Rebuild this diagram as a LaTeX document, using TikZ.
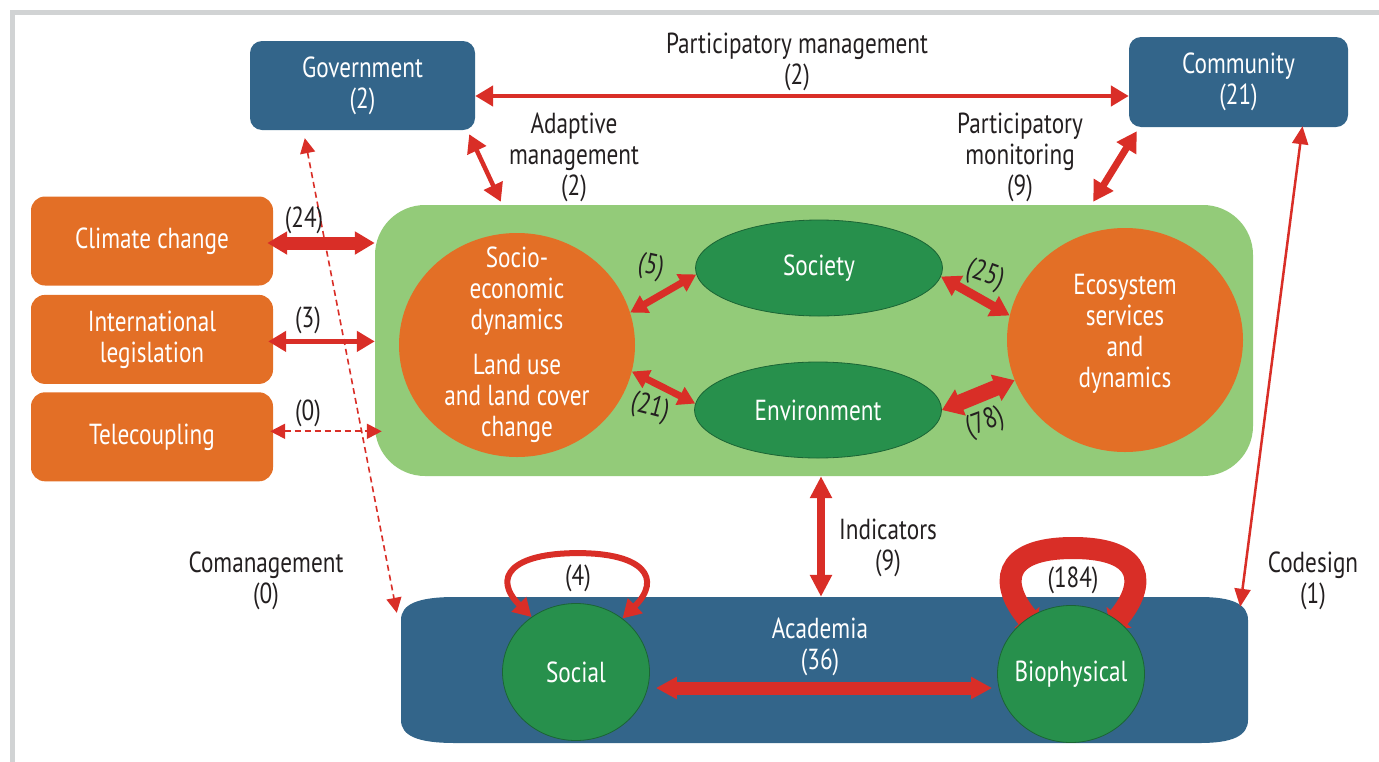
\documentclass[tikz,border=0pt]{standalone}
\usepackage{fontspec}
\setmainfont{PT Sans}[FakeStretch=0.8]
\usepackage{tikz}
\usetikzlibrary{arrows.meta,positioning,shapes.geometric,calc}

\definecolor{acadblue}{RGB}{51,101,138}
\definecolor{boxorange}{RGB}{227,111,38}
\definecolor{lightgreen}{RGB}{147,203,121}
\definecolor{darkgreen}{RGB}{39,144,76}
\definecolor{arrowred}{RGB}{217,46,39}
\definecolor{framegray}{RGB}{209,211,212}
\definecolor{labelblack}{RGB}{35,31,32}

\tikzset{
	every node/.style={font=\fontsize{29pt}{31pt}\selectfont,align=center,text=labelblack,inner sep=1pt},
	bluebox/.style={rectangle,fill=acadblue,text=white,rounded corners=12pt,minimum width=225pt,minimum height=89pt},
	orangebox/.style={rectangle,fill=boxorange,text=white,rounded corners=14pt,minimum width=242pt,minimum height=89pt},
	orangecirc/.style={ellipse,fill=boxorange,text=white,minimum width=236pt,minimum height=224pt,inner sep=-30pt},
	greenell/.style={ellipse,fill=darkgreen,draw=darkgreen!70!black,line width=0.8pt,text=white,minimum width=247pt,minimum height=96pt,inner sep=-4pt},
	greencirc/.style={ellipse,fill=darkgreen,draw=darkgreen!70!black,line width=0.8pt,text=white,minimum width=147pt,minimum height=137pt,inner sep=-14pt},
	link/.style n args={3}{draw=arrowred,line width=#1,{Triangle[length=#2,width=#3]}-{Triangle[length=#2,width=#3]}},
	dashlink/.style={draw=arrowred,line width=1.6pt,dash pattern=on 6pt off 4pt,{Triangle[length=15pt,width=15pt]}-{Triangle[length=15pt,width=15pt]}}
}

\begin{document}
\begin{tikzpicture}[x=1pt,y=-1pt]
	\useasboundingbox (0,0) rectangle (1379,761);
	\draw[framegray,line width=4.5pt] (12.5,790) -- (12.5,12.5) -- (1400,12.5);

	\node[bluebox] (gov) at (362.5,85.5) {Government\\(2)};
	\node[bluebox,minimum width=219pt,minimum height=90pt] (comm) at (1238.5,82) {Community\\(21)};

	\node[orangebox] (climate) at (152,241) {Climate change};
	\node[orangebox,below=9pt of climate] (legis) {International\\legislation};
	\node[orangebox,below=8pt of legis] (tele) {Telecoupling};

	\node[rectangle,fill=lightgreen,rounded corners=50pt,minimum width=878pt,minimum height=271pt] (system) at (814,340.5) {};
	\node[orangecirc] (socio) at (517,345) {Socio-\\economic\\dynamics\\[14pt]Land use\\and land cover\\change};
	\node[orangecirc] (eco) at (1125,340) {Ecosystem\\services\\and\\dynamics\\[-12pt]};
	\node[greenell] (society) at (819,268) {Society};
	\node[greenell] (env) at (818,410) {Environment};

	\node[minimum width=847pt,minimum height=146pt,inner sep=0pt] (acad) at (824.5,670) {};
	\fill[acadblue] (455,597) -- (1200,597) .. controls (1232,597) and (1248,604) .. (1248,620) -- (1248,720) .. controls (1248,736) and (1232,743) .. (1200,743) -- (455,743) .. controls (418,743) and (401,736) .. (401,720) -- (401,620) .. controls (401,604) and (418,597) .. (455,597) -- cycle;
	\node[text=white] (acadlabel) at (820,647) {Academia\\(36)};

	\coordinate (bioc) at (1071,674);
	\draw[link={22pt}{14pt}{32pt}] ($(bioc)+(-35,-46)$) .. controls +(-36,-43) and +(-73,0) .. ($(bioc)+(2,-126)$) .. controls +(73,0) and +(36,-43) .. ($(bioc)+(39,-46)$);
	\node[greencirc] (social) at (576,672) {Social};
	\node[greencirc] (bio) at (bioc) {Biophysical};
	\draw[link={6pt}{18pt}{20pt}] (social.129) .. controls +(-40,-40) and +(-66,0) .. ($(social.north)+(2,-50)$) .. controls +(66,0) and +(40,-40) .. (social.49);

	\coordinate (pm) at (800,96);
	\draw[link={4.5pt}{18pt}{20pt}] (gov.east|-pm) -- (comm.west|-pm);
	\draw[link={4.5pt}{18pt}{20pt}] ($(gov.south east)+(-6,4)$) -- ($(system.north west)+(126,-3)$);
	\draw[link={7pt}{20pt}{22pt}] ($(comm.south west)+(8,4)$) -- ($(system.north east)+(-160,-3)$);
	\draw[link={2.5pt}{18pt}{16pt}] ($(comm.south)+(64,-1)$) -- ($(acad.north east)+(-8,10)$);
	\draw[dashlink] ($(gov.south west)+(55,8)$) -- ($(acad.north west)+(-4,16)$);

	\draw[link={13pt}{20pt}{22pt}] ($(climate.east)+(-6,2)$) -- ($(system.west|-climate.east)+(0,2)$);
	\draw[link={5pt}{18pt}{20pt}] ($(legis.east)+(-5,2)$) -- ($(system.west|-legis.east)+(0,2)$);
	\draw[dashlink,line width=2pt] ($(tele.east)+(-3,-5.5)$) -- ($(system.west|-tele.east)+(7,-5.5)$);

	\draw[link={7pt}{17pt}{19pt}] (socio.16) -- (society.183);
	\draw[link={7pt}{17pt}{19pt}] (socio.-13) -- (env.177);
	\draw[link={9pt}{19pt}{22pt}] (society.-4) -- (eco.168);
	\draw[link={16pt}{20pt}{27pt}] (env.east) -- (eco.200);
	\draw[link={8pt}{22pt}{21pt}] ($(env|-system.south)+(3,0)$) -- ($(env|-acad.north)+(3,0)$);
	\draw[link={13pt}{21pt}{21pt}] ($(social.east)+(6,16)$) -- ($(bio.west)+(-5,14)$);

	\node (pmlabel) at (797,62) {Participatory management\\(2)};
	\node (amlabel) at (574,157) {Adaptive\\management\\(2)};
	\node (pmonlabel) at (1020,157) {Participatory\\monitoring\\(9)};
	\node (climlabel) at (304,220) {(24)};
	\node (legislabel) at (308,320) {(3)};
	\node (telelabel) at (308,413) {(0)};
	\node[rotate=-12] (l5) at (651,267) {(5)};
	\node[rotate=-15] (l21) at (650,408) {(21)};
	\node[rotate=-20,inner sep=0pt] (l25) at (985,275) {(25)};
	\node[rotate=20,inner sep=0pt] (l78) at (985,423) {(78)};
	\node (indlabel) at (888,548) {Indicators\\(9)};
	\node (comlabel) at (266,581) {Comanagement\\(0)};
	\node (codlabel) at (1313,581) {Codesign\\(1)};
	\node (l4) at (578,578) {(4)};
	\node (l184) at (1073,580) {(184)};
\end{tikzpicture}
\end{document}
